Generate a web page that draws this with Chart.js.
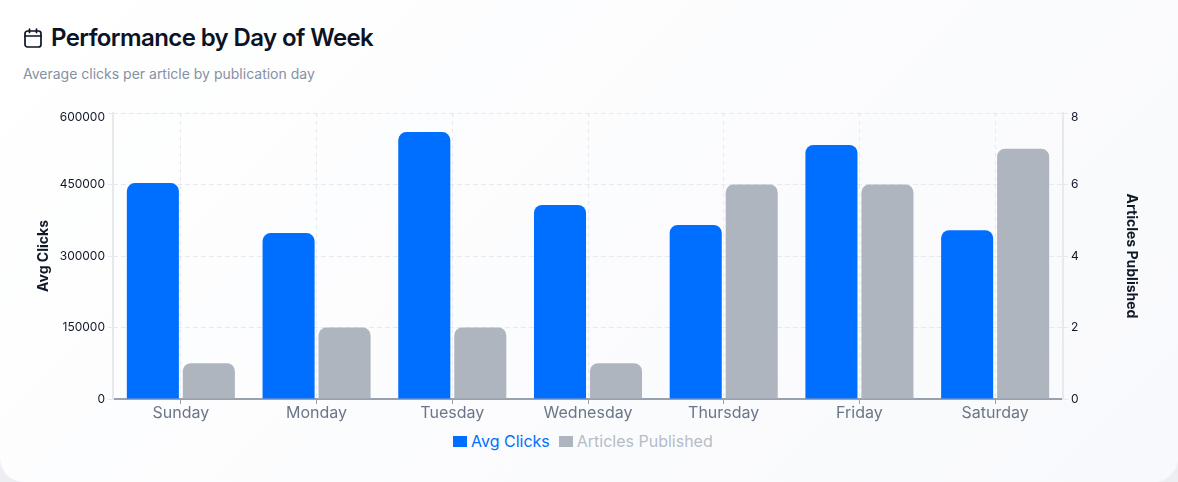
<!DOCTYPE html>
<html>
<head>
<meta charset="utf-8">
<title>Performance by Day of Week</title>
<script src="https://cdn.jsdelivr.net/npm/chart.js@4"></script>
<style>
    html, body { margin: 0; padding: 0; width: 1178px; height: 482px; overflow: hidden; background: #eceef2; font-family: Inter, sans-serif; }
    .card { position: relative; width: 1178px; height: 482px; border-radius: 0 0 24px 24px; background: linear-gradient(135deg, #ffffff 0%, #f8f9fc 100%); overflow: hidden; }
    .icon { position: absolute; left: 24px; top: 28px; }
    h1 { position: absolute; left: 51px; top: 23px; margin: 0; font-size: 24px; line-height: 30px; font-weight: 600; letter-spacing: -0.6px; color: #0b1324; white-space: nowrap; }
    p { position: absolute; left: 23px; top: 65px; margin: 0; font-size: 14px; line-height: 18px; color: #8591a3; white-space: nowrap; }
    .chart-box { position: absolute; left: 0; top: 100px; width: 1178px; height: 330px; }
    #legenda { position: absolute; left: 453px; top: 431px; display: flex; font-size: 16px; line-height: 20px; white-space: nowrap; }
    #legenda span { display: flex; align-items: center; margin-right: 9px; }
    #legenda i { display: block; width: 14px; height: 11px; margin-right: 4px; }
</style>
</head>
<body>
<div class="card">
    <svg class="icon" width="18" height="20" viewBox="0 0 18 20" fill="none" stroke="#0b1324" stroke-width="1.7" stroke-linecap="round" stroke-linejoin="round">
        <rect x="1" y="3" width="16" height="16" rx="2.5"></rect>
        <line x1="1" y1="8" x2="17" y2="8"></line>
        <line x1="5.5" y1="1" x2="5.5" y2="4.5"></line>
        <line x1="12.5" y1="1" x2="12.5" y2="4.5"></line>
    </svg>
    <h1>Performance by Day of Week</h1>
    <p>Average clicks per article by publication day</p>
    <div class="chart-box"><canvas id="graficoDias"></canvas></div>
    <div id="legenda"></div>
</div>
<script>
const dias = ['Sunday', 'Monday', 'Tuesday', 'Wednesday', 'Thursday', 'Friday', 'Saturday'];
const mediaCliques = [453000, 348000, 560000, 407000, 365000, 533000, 354000];
const artigosPublicados = [1, 2, 2, 1, 6, 6, 7];

const corGrade = '#e6eaef';
const corTexto = '#111827';

// o rotulo do topo fica um pouco abaixo da linha: linha vazia antes do texto
function rotuloTopo(maximo) {
    return function (v) {
        return v === maximo ? ['', String(v)] : String(v);
    };
}
function fonteTopo(maximo) {
    return function (ctx) {
        return { family: 'Inter', size: 12, lineHeight: ctx.tick && ctx.tick.value === maximo ? '8px' : 1.2 };
    };
}

const grafico = new Chart(document.getElementById('graficoDias').getContext('2d'), {
    type: 'bar',
    data: {
        labels: dias,
        datasets: [{
            label: 'Avg Clicks',
            data: mediaCliques,
            backgroundColor: '#006fff',
            borderRadius: 8,
            yAxisID: 'y',
            categoryPercentage: 0.825,
            barPercentage: 0.93
        }, {
            label: 'Articles Published',
            data: artigosPublicados,
            backgroundColor: '#afb5be',
            borderRadius: 8,
            yAxisID: 'y1',
            categoryPercentage: 0.825,
            barPercentage: 0.93
        }]
    },
    options: {
        responsive: true,
        maintainAspectRatio: false,
        animation: false,
        layout: { padding: { left: 31, right: 34, top: 13, bottom: 0 } },
        scales: {
            x: {
                grid: { color: corGrade, tickColor: '#9aa1ae', tickLength: 5, offset: false },
                border: { color: '#9aa1ae', width: 2, dash: [4, 4] },
                ticks: { color: '#6b7688', font: { family: 'Inter', size: 16 }, padding: 0 },
                afterFit: function (eixo) { eixo.height = 31; }
            },
            y: {
                position: 'left',
                min: 0,
                max: 600000,
                afterFit: function (eixo) { eixo.width = 82; },
                grid: { color: corGrade, tickColor: corGrade, tickLength: 5 },
                border: { color: corGrade, width: 2, dash: [4, 4] },
                ticks: { stepSize: 150000, color: corTexto, font: fonteTopo(600000), callback: rotuloTopo(600000) },
                title: { display: true, text: 'Avg Clicks', color: corTexto, font: { family: 'Inter', size: 14, weight: '700' } }
            },
            y1: {
                position: 'right',
                min: 0,
                max: 8,
                afterFit: function (eixo) { eixo.width = 81; },
                grid: { color: corGrade, tickColor: corGrade, tickLength: 5 },
                border: { color: corGrade, width: 2, dash: [4, 4] },
                ticks: { stepSize: 2, color: corTexto, font: fonteTopo(8), callback: rotuloTopo(8) },
                title: { display: true, text: 'Articles Published', color: corTexto, font: { family: 'Inter', size: 14, weight: '700' } }
            }
        },
        plugins: {
            legend: { display: false },
            tooltip: { enabled: false }
        }
    }
});

// legenda em html
const coresLegenda = ['#006fff', '#b6bcc6'];
grafico.data.datasets.forEach(function (ds, i) {
    const item = document.createElement('span');
    item.style.color = coresLegenda[i];
    const caixa = document.createElement('i');
    caixa.style.background = ds.backgroundColor;
    item.appendChild(caixa);
    item.appendChild(document.createTextNode(ds.label));
    document.getElementById('legenda').appendChild(item);
});
</script>
</body>
</html>
